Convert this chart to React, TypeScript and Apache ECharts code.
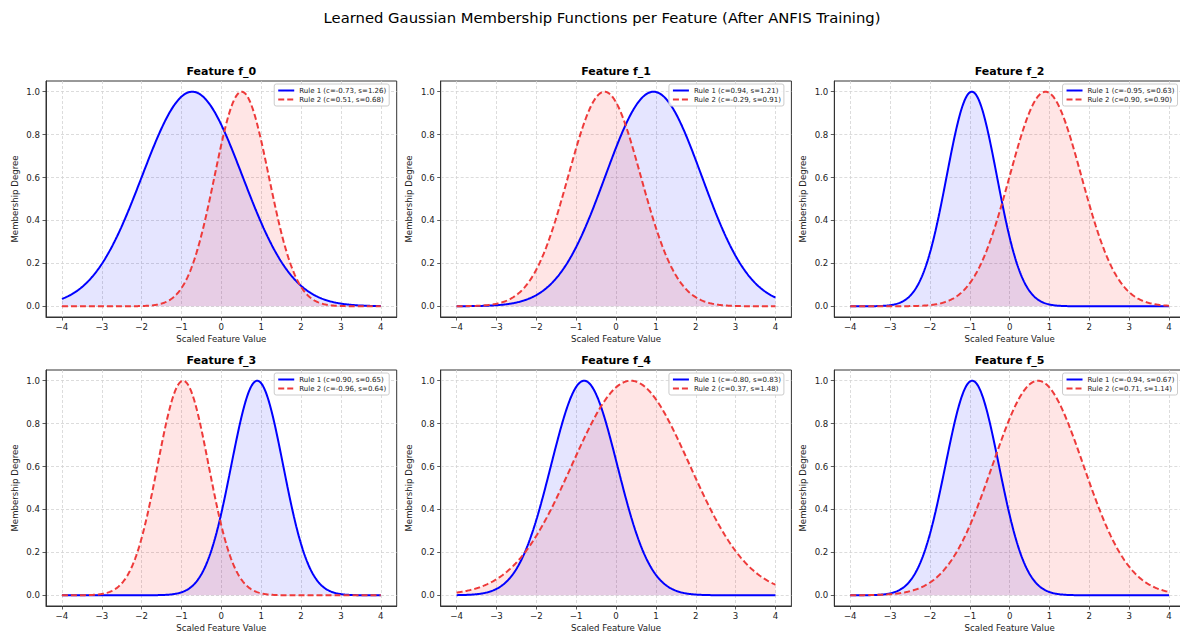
import React, { useEffect, useRef } from "react";
import * as echarts from "echarts";

// ---- Data (legend parameters of each learned MF) ----
const mainTitle = "Learned Gaussian Membership Functions per Feature (After ANFIS Training)";
const features = ["f_0", "f_1", "f_2", "f_3", "f_4", "f_5"];
const rule1Centers = [-0.73, 0.94, -0.95, 0.9, -0.8, -0.94];
const rule1Sigmas = [1.26, 1.21, 0.63, 0.65, 0.83, 0.67];
const rule2Centers = [0.51, -0.29, 0.9, -0.96, 0.37, 0.71];
const rule2Sigmas = [0.68, 0.91, 0.9, 0.64, 1.48, 1.14];
const xTicks = [-4, -3, -2, -1, 0, 1, 2, 3, 4];
const yTicks = [0, 0.2, 0.4, 0.6, 0.8, 1.0];
const xDomain = [-4, 4];
const sampleCount = 401;

// ---- Styling / layout ----
const FONT = "DejaVu Sans";
const W = 1180;
const H = 635;
const colLeft = [46, 440.7, 834.3];
const rowTop = [81, 370];
const plotW = 350.7;
const plotH = 236;
const BLUE = "#0000ff";
const RED = "#ee3a3a";

// Gaussian membership function defined by the legend's c and s
const gaussMF = (x: number, c: number, s: number) => Math.exp(-((x - c) * (x - c)) / (2 * s * s));

const xs: number[] = [];
for (let i = 0; i < sampleCount; i++) {
  xs.push(xDomain[0] + ((xDomain[1] - xDomain[0]) * i) / (sampleCount - 1));
}

const fmtMinus = (v: number) => (v < 0 ? "\u2212" + String(Math.abs(v)) : String(v));
const ruleLabel = (k: number, c: number, s: number) => `Rule ${k} (c=${c.toFixed(2)}, s=${s.toFixed(2)})`;

function buildOption() {
  const grids: any[] = [];
  const xAxes: any[] = [];
  const yAxes: any[] = [];
  const series: any[] = [];
  const legends: any[] = [];
  const titles: any[] = [
    {
      text: mainTitle,
      left: 602,
      top: 10,
      padding: 0,
      textAlign: "center",
      textStyle: { fontFamily: FONT, fontSize: 14.8, fontWeight: "normal", color: "#000" },
    },
  ];

  features.forEach((f, i) => {
    const r = Math.floor(i / 3);
    const c = i % 3;
    const left = colLeft[c];
    const top = rowTop[r];
    grids.push({
      left,
      top,
      width: plotW,
      height: plotH,
      show: true,
      borderColor: "#333",
      borderWidth: 1,
      backgroundColor: "transparent",
      containLabel: false,
      outerBoundsMode: "none",
    });
    xAxes.push({
      type: "value",
      gridIndex: i,
      min: -4.4,
      max: 4.4,
      name: "Scaled Feature Value",
      nameLocation: "middle",
      nameGap: 17,
      nameTextStyle: { fontFamily: FONT, fontSize: 8.6, color: "#222", verticalAlign: "top" },
      axisLine: { show: true, onZero: false, lineStyle: { color: "#333", width: 1 } },
      axisTick: { show: true, length: 3.5, customValues: xTicks, lineStyle: { color: "#333", width: 0.8 } },
      axisLabel: {
        show: true,
        customValues: xTicks,
        margin: 5,
        fontFamily: FONT,
        fontSize: 8.6,
        color: "#222",
        formatter: (v: number) => fmtMinus(v),
      },
      splitLine: { show: true, lineStyle: { color: "#d3d3d3", width: 0.8, type: [3, 2] } },
    });
    yAxes.push({
      type: "value",
      gridIndex: i,
      min: -0.05,
      max: 1.05,
      name: "Membership Degree",
      nameLocation: "middle",
      nameGap: 27,
      nameTextStyle: { fontFamily: FONT, fontSize: 8.6, color: "#222" },
      axisLine: { show: true, onZero: false, lineStyle: { color: "#333", width: 1 } },
      axisTick: { show: true, length: 3.5, customValues: yTicks, lineStyle: { color: "#333", width: 0.8 } },
      axisLabel: {
        show: true,
        customValues: yTicks,
        margin: 6,
        fontFamily: FONT,
        fontSize: 8.6,
        color: "#222",
        formatter: (v: number) => v.toFixed(1),
      },
      splitLine: { show: true, lineStyle: { color: "#d3d3d3", width: 0.8, type: [3, 2] } },
    });
    titles.push({
      text: `Feature ${f}`,
      left: left + plotW / 2,
      top: top - 15,
      padding: 0,
      textAlign: "center",
      textStyle: { fontFamily: FONT, fontSize: 11, fontWeight: "bold", color: "#000" },
    });

    const n1 = ruleLabel(1, rule1Centers[i], rule1Sigmas[i]);
    const n2 = ruleLabel(2, rule2Centers[i], rule2Sigmas[i]);
    series.push({
      type: "line",
      name: n1,
      xAxisIndex: i,
      yAxisIndex: i,
      data: xs.map((x) => [x, gaussMF(x, rule1Centers[i], rule1Sigmas[i])]),
      symbol: "none",
      showSymbol: false,
      color: BLUE,
      lineStyle: { color: BLUE, width: 2, type: "solid" },
      areaStyle: { color: BLUE, opacity: 0.1, origin: 0 },
      emphasis: { disabled: true },
      silent: true,
    });
    series.push({
      type: "line",
      name: n2,
      xAxisIndex: i,
      yAxisIndex: i,
      data: xs.map((x) => [x, gaussMF(x, rule2Centers[i], rule2Sigmas[i])]),
      symbol: "none",
      showSymbol: false,
      color: RED,
      lineStyle: { color: RED, width: 2, type: [6, 3] },
      areaStyle: { color: "#ff0000", opacity: 0.1, origin: 0 },
      emphasis: { disabled: true },
      silent: true,
    });
    legends.push({
      data: [n1, n2],
      orient: "vertical",
      right: W - (left + plotW - 7.5),
      top: top + 3,
      itemWidth: 16,
      itemHeight: 8,
      itemGap: 2,
      padding: [3, 3],
      backgroundColor: "rgba(255,255,255,0.85)",
      borderColor: "#cccccc",
      borderWidth: 1,
      borderRadius: 2,
      selectedMode: false,
      itemStyle: { opacity: 0, borderWidth: 0 },
      lineStyle: { opacity: 1, width: 2 },
      textStyle: { fontFamily: FONT, fontSize: 7, color: "#222" },
    });
  });

  return {
    animation: false,
    backgroundColor: "#ffffff",
    textStyle: { fontFamily: FONT },
    title: titles,
    legend: legends,
    grid: grids,
    xAxis: xAxes,
    yAxis: yAxes,
    series,
  };
}

export default function App() {
  const ref = useRef<HTMLDivElement>(null);
  useEffect(() => {
    if (!ref.current) return;
    const chart = echarts.init(ref.current, null, { renderer: "svg" });
    chart.setOption(buildOption() as any);
    return () => chart.dispose();
  }, []);
  return (
    <div
      ref={ref}
      style={{ position: "fixed", left: 0, top: 0, width: W, height: H, background: "#fff", overflow: "hidden" }}
    />
  );
}
